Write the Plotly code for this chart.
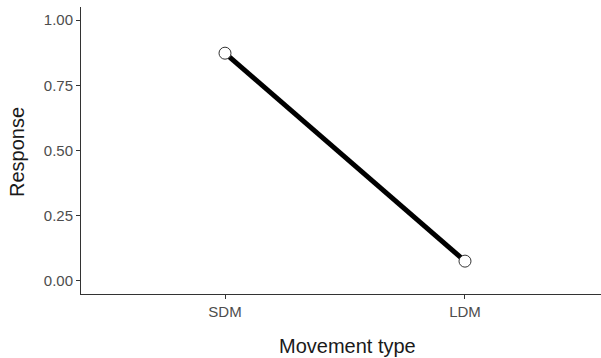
import plotly.graph_objects as go

categories = ["SDM", "LDM"]
response = [0.873, 0.076]
y_ticks = [0.0, 0.25, 0.5, 0.75, 1.0]
y_tick_labels = ["0.00", "0.25", "0.50", "0.75", "1.00"]

fig = go.Figure()
fig.add_trace(go.Scatter(
    x=list(range(len(categories))), y=response, mode="lines+markers",
    line=dict(color="black", width=5),
    marker=dict(size=12, color="white", line=dict(color="#333333", width=1)),
    showlegend=False, hoverinfo="skip"))

font = "Liberation Sans, Arial, Helvetica, sans-serif"
W, H = 601, 358
L, R, T, B = 81, 0, 7, 64
pw, ph = W - L - R, H - T - B
fig.update_layout(
    width=W, height=H,
    margin=dict(l=L, r=R, t=T, b=B, autoexpand=False),
    paper_bgcolor="white", plot_bgcolor="white",
    font=dict(family=font),
    xaxis=dict(range=[-0.6, 1.5667], tickmode="array", tickvals=[0, 1], ticktext=categories,
               showgrid=False, zeroline=False, showline=True, linecolor="#333333", linewidth=1,
               ticks="outside", ticklen=4, tickcolor="#333333", tickwidth=1, automargin=False,
               tickfont=dict(size=15, color="#4d4d4d", family=font)),
    yaxis=dict(range=[-0.05, 1.05], tickmode="array", tickvals=y_ticks, ticktext=y_tick_labels,
               showgrid=False, zeroline=False, showline=True, linecolor="#333333", linewidth=1,
               ticks="outside", ticklen=4, tickcolor="#333333", tickwidth=1, automargin=False,
               tickfont=dict(size=15, color="#4d4d4d", family=font)),
    annotations=[
        dict(text="Movement type", xref="paper", yref="paper", x=(347 - L) / pw, y=-(346 - (H - B)) / ph,
             xanchor="center", yanchor="middle", showarrow=False, font=dict(size=20, color="#1a1a1a", family=font)),
        dict(text="Response", xref="paper", yref="paper", x=-(L - 17) / pw, y=((H - B) - 152) / ph,
             xanchor="center", yanchor="middle", textangle=-90, showarrow=False,
             font=dict(size=20, color="#1a1a1a", family=font)),
    ],
)
fig.write_html("out.html", config={"displayModeBar": False, "staticPlot": True})

with open("out.html", "r", encoding="utf-8") as f:
    html = f.read()
html = html.replace("<body>", '<body style="margin:0;padding:0;overflow:hidden">', 1)
with open("out.html", "w", encoding="utf-8") as f:
    f.write(html)
